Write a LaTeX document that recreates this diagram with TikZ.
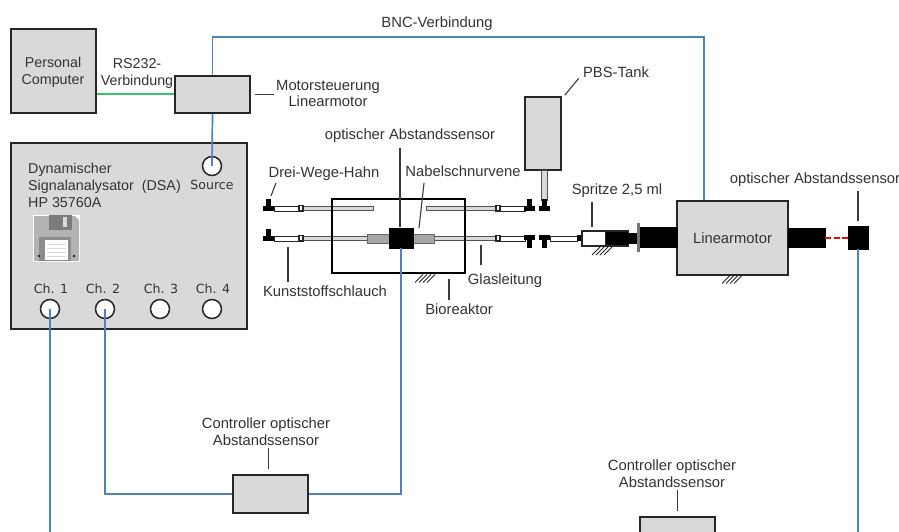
\documentclass[tikz,border=0pt]{standalone}
\usepackage{fontspec}
\setmainfont{Liberation Sans}
\newfontfamily\portfont{DejaVu Sans}
\usepackage{tikz}
\usetikzlibrary{positioning, calc}
\definecolor{boxGray}{HTML}{D9D9D9}
\definecolor{lineDark}{HTML}{262626}
\definecolor{textDark}{HTML}{333333}
\definecolor{cableBlue}{HTML}{4F81BD}
\definecolor{cableGreen}{HTML}{3DBE6E}
\definecolor{cableRed}{HTML}{FF2A2A}
\definecolor{tubeGray}{HTML}{A6A6A6}
\tikzset{
  graybox/.style={draw=lineDark, fill=boxGray, line width=1.5pt, inner sep=0pt, text=textDark},
  blackpart/.style={draw=black, fill=black, inner sep=0pt},
  lbl/.style={text=textDark, align=center, inner sep=0pt, font=\fontsize{14.8}{16.8}\selectfont},
  smalllbl/.style={lbl, font=\fontsize{14.3}{17.2}\selectfont},
  portlbl/.style={text=textDark, inner sep=0pt, font=\portfont\fontsize{12.6}{15}\selectfont},
  port/.style={circle, draw=lineDark, fill=white, line width=1.5pt, minimum size=19pt, inner sep=0pt},
  bluecable/.style={draw=cableBlue, line width=1.7pt},
  leader/.style={draw=lineDark!90, line width=1.1pt},
  glass/.style={draw=lineDark!80, fill=boxGray, line width=1pt},
  hose/.style={draw=lineDark, fill=white, line width=1pt},
  hatching/.pic={\foreach \i in {0,1,2,3} \draw[lineDark, line width=1pt] (\i*4,0) -- ++(-8,8);}
}
\begin{document}
\begin{tikzpicture}[x=1pt, y=-1pt]
  \useasboundingbox (0,0) rectangle (899,532);
  \clip (0,0) rectangle (899,532);
  \fill[white] (0,0) rectangle (899,532);

  % boxes
  \node[graybox, minimum width=85pt, minimum height=84pt] (pc) at (53.5,71) {};
  \node[graybox, minimum width=75pt, minimum height=37pt] (motorctrl) at (212.5,94.5) {};
  \node[graybox, minimum width=236pt, minimum height=186pt] (dsa) at (129,236) {};
  \node[graybox, minimum width=75pt, minimum height=38pt] (ctrlA) at (270.5,494) {};
  \node[graybox, minimum width=75pt, minimum height=38pt] (ctrlB) at (677.5,536) {};
  \node[graybox, minimum width=36pt, minimum height=73pt] (tank) at (543,133.5) {};
  \node[graybox, minimum width=111pt, minimum height=74pt, font=\fontsize{14.8}{16.5}\selectfont] (linmotor) at (732.5,238) {Linearmotor};

  % ports on the DSA
  \node[port] (source) at (212,166) {};
  \node[port] (chA) at (50,309) {};
  \node[port] (chB) at (105,309) {};
  \node[port] (chC) at (160,309) {};
  \node[port] (chD) at (212,309) {};
  \node[portlbl] (sourcelbl) at (212,185) {Source};
  \node[portlbl] (chAlbl) at (51,289) {Ch. 1};
  \node[portlbl] (chBlbl) at (103,289) {Ch. 2};
  \node[portlbl] (chClbl) at (161,289) {Ch. 3};
  \node[portlbl] (chDlbl) at (213,289) {Ch. 4};
  \node[smalllbl, align=left, anchor=north west] (dsalbl) at (28,162.5) {Dynamischer\\Signalanalysator\ \ (DSA)\\HP 35760A};

  % floppy disk
  \fill[white] (33,215) rectangle (80,262);
  \fill[tubeGray!85!white] (34,216) -- (75,216) -- (79,220) -- (79,261) -- (34,261) -- cycle;
  \fill[tubeGray!75!black] (49,215) rectangle (72,230);
  \fill[boxGray] (63,217) rectangle (67,227);
  \fill[tubeGray!85!black] (39,237) rectangle (71,261);
  \fill[white] (45,240) rectangle (68,260);
  \foreach \y in {244,248,...,256} \draw[boxGray, line width=.6pt] (47,\y) -- (66,\y);
  \fill[lineDark] (39,256) circle (1.3pt) (74,256) circle (1.3pt);

  % tubes, upper row
  \foreach \a/\b in {303/373, 426/496} \filldraw[glass] (\a,206.5) rectangle (\b,210.5);
  \foreach \a/\b in {274/299, 500/525} \filldraw[hose] (\a,206) rectangle (\b,211);
  \foreach \a in {299,496} \filldraw[hose, line width=1.2pt] (\a,205.5) rectangle +(4,5.5);
  % tubes, lower row
  \foreach \a/\b in {303/367, 434/496} \filldraw[glass] (\a,236.5) rectangle (\b,240.5);
  \foreach \a/\b in {274/299, 500/525, 550/577} \filldraw[hose] (\a,236) rectangle (\b,241);
  \foreach \a in {299,496} \filldraw[hose, line width=1.2pt] (\a,235.5) rectangle +(4,5.5);
  \filldraw[glass] (541,170) rectangle (547,200);
  \filldraw[draw=lineDark!70, fill=tubeGray, line width=1pt] (367,234) rectangle (434,243);

  % three way valves
  \foreach \x/\y in {268.5/206, 268.5/236, 529.5/205.5, 544/205.5} {
    \fill[black] (\x-5.5,\y) rectangle (\x+5.5,\y+5);
    \fill[black] (\x-2.5,\y-7) rectangle (\x+2.5,\y+1);
  }
  \foreach \x in {529.5,544} {
    \fill[black] (\x-5.5,235) rectangle (\x+5.5,240);
    \fill[black] (\x-2.5,236) rectangle (\x+2.5,248);
  }

  % syringe
  \fill[black] (577,235) rectangle (583,240.5);
  \node[draw=lineDark, fill=white, line width=1.2pt, minimum width=24pt, minimum height=15pt, inner sep=0pt] (barrel) at (594,238.5) {};
  \node[draw=lineDark, fill=black, line width=1.2pt, minimum width=23pt, minimum height=15pt, inner sep=0pt] (plunger) at (617,238.5) {};
  \node[blackpart, minimum width=9pt, minimum height=10pt] (rod) at (633,238) {};
  \fill[tubeGray!70!black] (637,223) rectangle (640,252);
  \node[blackpart, minimum width=37pt, minimum height=20pt] (drive) at (658.5,237) {};
  \node[blackpart, minimum width=37pt, minimum height=19pt] (driveR) at (806.5,237.5) {};

  % bioreactor and sensors
  \node[draw=black, line width=1.4pt, minimum width=133pt, minimum height=74pt, inner sep=0pt] (reactor) at (398.5,236) {};
  \node[blackpart, minimum width=24pt, minimum height=20pt] (sensorA) at (401,238) {};
  \node[blackpart, minimum width=20pt, minimum height=23pt] (sensorB) at (858,237.5) {};

  % ground marks
  \pic at (423,274.5) {hatching};
  \pic at (600,247) {hatching};
  \pic at (730,275.5) {hatching};

  % cables
  \coordinate (bnc) at (704,37);
  \draw[draw=cableGreen, line width=2pt] (pc.east |- motorctrl) -- (motorctrl.west);
  \draw[bluecable] (motorctrl.north) |- (bnc) -- (linmotor.north -| bnc);
  \draw[bluecable] (motorctrl.south) -- (source.center);
  \draw[bluecable] (chA.center) -- (chA |- 0,532);
  \draw[bluecable] (chB.center) |- (ctrlA.west);
  \draw[bluecable] (ctrlA.east) -| (sensorA.south);
  \draw[bluecable] (sensorB.south) -- (sensorB |- 0,532);
  \draw[red, line width=2pt, dash pattern=on 6pt off 2.5pt] (driveR.east) -- (sensorB.west);

  % labels
  \node[smalllbl] (pclbl) at (53,72) {Personal\\Computer};
  \node[lbl] (bnclbl) at (437,23.5) {BNC-Verbindung};
  \node[smalllbl] (rslbl) at (137,73.5) {RS232-\\Verbindung};
  \node[lbl] (motorlbl) at (328,93.5) {Motorsteuerung\\Linearmotor};
  \node[lbl] (tanklbl) at (616,72) {PBS-Tank};
  \node[lbl] (sensorAlbl) at (410,135.5) {optischer Abstandssensor};
  \node[lbl] (valvelbl) at (324,173.5) {Drei-Wege-Hahn};
  \node[lbl] (veinlbl) at (463,171) {Nabelschnurvene};
  \node[lbl] (syringelbl) at (617,190.5) {Spritze 2,5 ml};
  \node[lbl] (sensorBlbl) at (815,179.5) {optischer Abstandssensor};
  \node[lbl] (hoselbl) at (325,291) {Kunststoffschlauch};
  \node[lbl] (glasslbl) at (505,280.5) {Glasleitung};
  \node[lbl] (reactorlbl) at (459,309) {Bioreaktor};
  \node[lbl] (ctrlAlbl) at (266,431.5) {Controller optischer\\Abstandssensor};
  \node[lbl] (ctrlBlbl) at (672,473.5) {Controller optischer\\Abstandssensor};

  % leader lines
  \draw[leader] (motorctrl.east) ++(4,0) -- ++(19,0);
  \draw[leader] (tank.north east) ++(3,-1) -- ++(14,-17);
  \draw[leader] (sensorA.north) ++(-1,-1) -- (400,148);
  \draw[leader] (271,196) -- (276,183);
  \draw[leader] (419,228) -- (424,183);
  \draw[leader] (288,247) -- (288,282);
  \draw[leader] (481,245) -- (481,265);
  \draw[leader] (449,279) -- (449,300);
  \draw[leader] (592,202) -- (592,227);
  \draw[leader] (sensorB.north) ++(0,-5) -- ++(0,-30);
  \draw[leader] (ctrlA.north) ++(-2,-5) -- ++(0,-21);
  \draw[leader] (ctrlB.north) ++(0,-5) -- ++(0,-21);
\end{tikzpicture}
\end{document}
